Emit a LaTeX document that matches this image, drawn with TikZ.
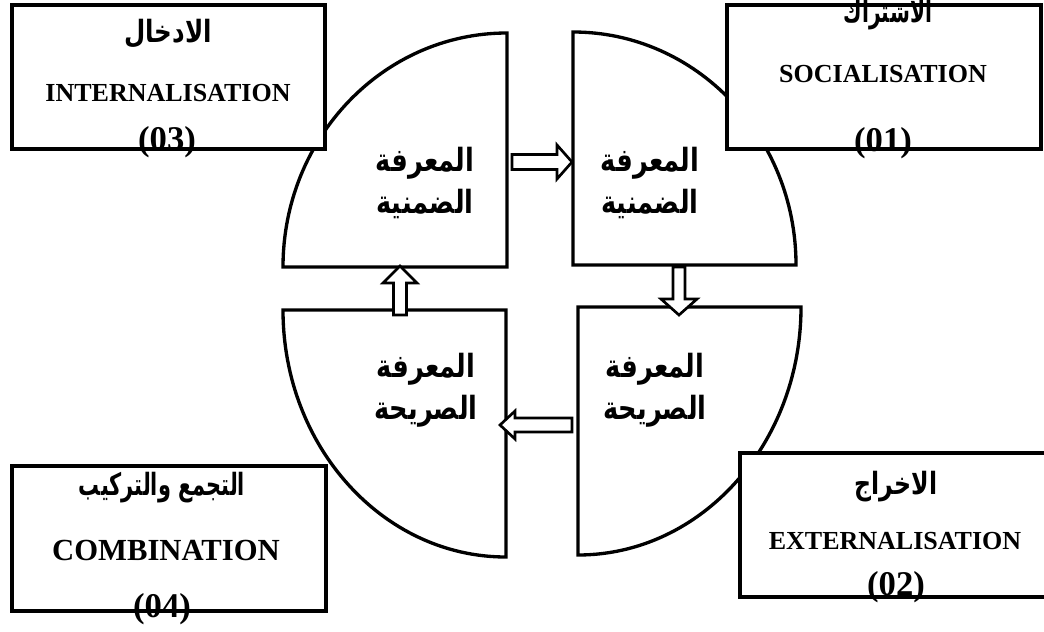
\documentclass[tikz,border=0pt]{standalone}
\usepackage{graphicx}
\usepackage{fontspec}
\setmainfont{Liberation Serif}
\newfontfamily\arabicfont[Script=Arabic]{DejaVu Sans}
\TeXXeTstate=1
% narrow a line horizontally by #1
\newcommand\narrowed[2]{\scalebox{#1}[1]{#2}}
\begin{document}
\begin{tikzpicture}[x=0.75pt,y=-0.75pt,
  quad/.style={draw, line width=2.5pt, fill=white, line join=miter},
  boxframe/.style={draw, line width=3pt, fill=white, inner sep=0pt},
  blockarrow/.style={draw, line width=2pt, fill=white, line join=miter},
  qlabel/.style={font=\arabicfont\bfseries\fontsize{24}{31.5}\selectfont, align=center, inner sep=0pt},
  arhead/.style={font=\arabicfont\bfseries\fontsize{23}{25}\selectfont, inner sep=0pt},
  enname/.style={font=\bfseries\fontsize{19.5}{22}\selectfont, inner sep=0pt},
  numtag/.style={font=\bfseries\fontsize{26}{28}\selectfont, inner sep=0pt}
]
\useasboundingbox (0,0) rectangle (1044,631);

% four quarter-ellipse segments of the knowledge cycle
\coordinate (qtl) at (507,267);
\coordinate (qtr) at (573,265);
\coordinate (qbl) at (506,310);
\coordinate (qbr) at (578,307);
\draw[quad] (qtl) -- (507,33) arc[start angle=270, end angle=180, x radius=224, y radius=234] -- cycle;
\draw[quad] (qtr) -- (573,32) arc[start angle=270, end angle=360, x radius=223, y radius=233] -- cycle;
\draw[quad] (qbl) -- (506,557) arc[start angle=90, end angle=180, x radius=223, y radius=247] -- cycle;
\draw[quad] (qbr) -- (578,555) arc[start angle=90, end angle=0, x radius=223, y radius=248] -- cycle;

% hollow block arrows between the segments
\draw[blockarrow] (512,154.5) -- (557,154.5) -- (557,145) -- (572,162) -- (557,179) -- (557,169.5) -- (512,169.5) -- cycle;
\draw[blockarrow] (673,267) -- (673,299) -- (661,299) -- (679,315) -- (697,299) -- (685,299) -- (685,267) -- cycle;
\draw[blockarrow] (572,418) -- (515,418) -- (515,411) -- (500,425) -- (515,439) -- (515,432) -- (572,432) -- cycle;
\draw[blockarrow] (393.5,315) -- (393.5,283) -- (383,283) -- (400,266) -- (417,283) -- (406.5,283) -- (406.5,315) -- cycle;

% segment labels
\node[qlabel] (ltl) at (425,183) {\narrowed{0.8}{\beginR المعرفة\endR}\\\narrowed{0.8}{\beginR الضمنية\endR}};
\node[qlabel] (ltr) at (650,183) {\narrowed{0.8}{\beginR المعرفة\endR}\\\narrowed{0.8}{\beginR الضمنية\endR}};
\node[qlabel] (lbl) at (426,390) {\narrowed{0.8}{\beginR المعرفة\endR}\\\narrowed{0.8}{\beginR الصريحة\endR}};
\node[qlabel] (lbr) at (655,390) {\narrowed{0.8}{\beginR المعرفة\endR}\\\narrowed{0.8}{\beginR الصريحة\endR}};

% stage boxes
\node[boxframe, minimum width=234.75pt, minimum height=108pt] (b3) at (168.5,77) {};
\node[boxframe, minimum width=235.5pt, minimum height=108pt] (b1) at (884,77) {};
\node[boxframe, minimum width=235.5pt, minimum height=108.75pt] (b4) at (169,538.5) {};
\node[boxframe, minimum width=230.25pt, minimum height=108pt] (b2) at (893.5,525) {};

% texts of the stage boxes
\node[arhead] (h3) at (168,34) {\narrowed{0.8}{\beginR الادخال\endR}};
\node[enname] (e3) at (168,93) {INTERNALISATION};
\node[numtag] (n3) at (167,142) {(03)};

\node[arhead] (h1) at (888,15) {\narrowed{0.66}{\beginR الاشتراك\endR}};
\node[enname] (e1) at (883,74) {SOCIALISATION};
\node[numtag] (n1) at (883,143) {(01)};

\node[arhead] (h4) at (162,488) {\narrowed{0.68}{\beginR التجمع والتركيب\endR}};
\node[enname, font=\bfseries\fontsize{23}{25}\selectfont] (e4) at (166,550) {COMBINATION};
\node[numtag] (n4) at (162,609) {(04)};

\node[arhead] (h2) at (896,487) {\narrowed{0.77}{\beginR الاخراج\endR}};
\node[enname] (e2) at (895,541) {EXTERNALISATION};
\node[numtag] (n2) at (896,587) {(02)};
\end{tikzpicture}
\end{document}
